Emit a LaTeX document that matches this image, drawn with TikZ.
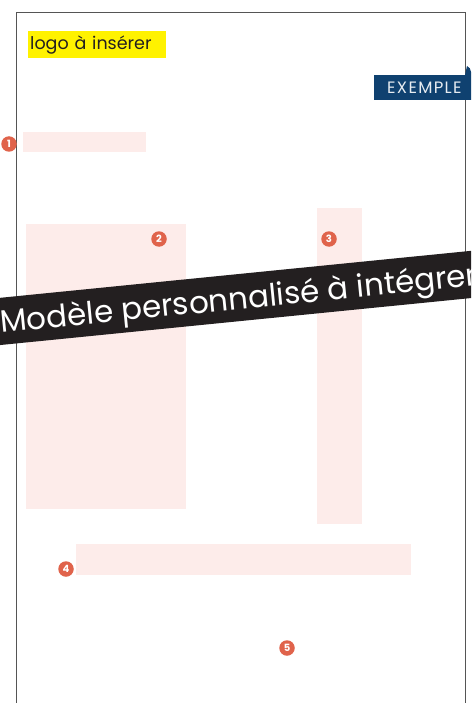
\documentclass[tikz,border=0pt]{standalone}
\usepackage{fontspec}
\setmainfont{Poppins}
\newfontfamily\exfont{Poppins}[LetterSpace=8]
\definecolor{pinkbox}{HTML}{FDECEA}
\definecolor{badgec}{HTML}{E0634B}
\definecolor{bluec}{HTML}{0F4170}
\definecolor{darkc}{HTML}{231F20}
\definecolor{yellowc}{HTML}{FFF200}
\definecolor{framec}{HTML}{555555}
\tikzset{
  zone/.style={fill=pinkbox, draw=none, anchor=north west, inner sep=0pt},
  badge/.style={circle, fill=badgec, text=white, inner sep=0pt, minimum size=15.5pt, font=\fontsize{10}{10}\selectfont\bfseries},
}
\begin{document}
\begin{tikzpicture}[x=1pt,y=1pt]
\useasboundingbox (0,0) rectangle (471,-703);
\clip (0,0) rectangle (471,-703);
% page frame
\draw[framec, line width=1.3pt] (16.5,-710) -- (16.5,-12.5) -- (465.5,-12.5) -- (465.5,-710);
% logo
\node[fill=yellowc, anchor=north west, minimum width=138pt, minimum height=27pt, inner sep=0pt, text=darkc, font=\fontsize{17.5}{17.5}\selectfont, align=left, text width=136pt] (logo) at (28,-31) {\hspace*{1pt}logo à insérer};
% EXEMPLE ribbon
\fill[bluec] (465,-75) -- (467,-66) .. controls (469,-67) and (471,-69) .. (471,-72) -- (471,-75) -- cycle;
\node[fill=bluec, anchor=north west, minimum width=100pt, minimum height=25pt, inner sep=0pt, align=left, text width=100pt, text=white!90!bluec, font=\exfont\fontsize{16.5}{16.5}\selectfont] (exemple) at (374,-75) {\hspace*{13pt}EXEMPLE};
% zones
\node[zone, minimum width=123pt, minimum height=20pt] (z1) at (23,-132) {};
\node[zone, minimum width=160pt, minimum height=285pt] (z2) at (26,-224) {};
\node[zone, minimum width=45pt, minimum height=316pt] (z3) at (317,-208) {};
\node[zone, minimum width=335pt, minimum height=31pt] (z4) at (76,-544) {};
% badges
\node[badge] (b1) at (9,-144) {1};
\node[badge] (b2) at (159,-239) {2};
\node[badge] (b3) at (329,-239) {3};
\node[badge] (b4) at (66,-569) {4};
\node[badge] (b5) at (287,-648) {5};
% band
\node[fill=darkc, rotate=5.7, minimum width=620pt, minimum height=47pt, inner sep=0pt] (band) at (235,-298) {};
\node[rotate=5.7, anchor=base west, inner sep=0pt, text=white, font=\fontsize{31}{31}\selectfont] (bandtext) at (1,-333) {Modèle personnalisé à intégrer};
\end{tikzpicture}
\end{document}
